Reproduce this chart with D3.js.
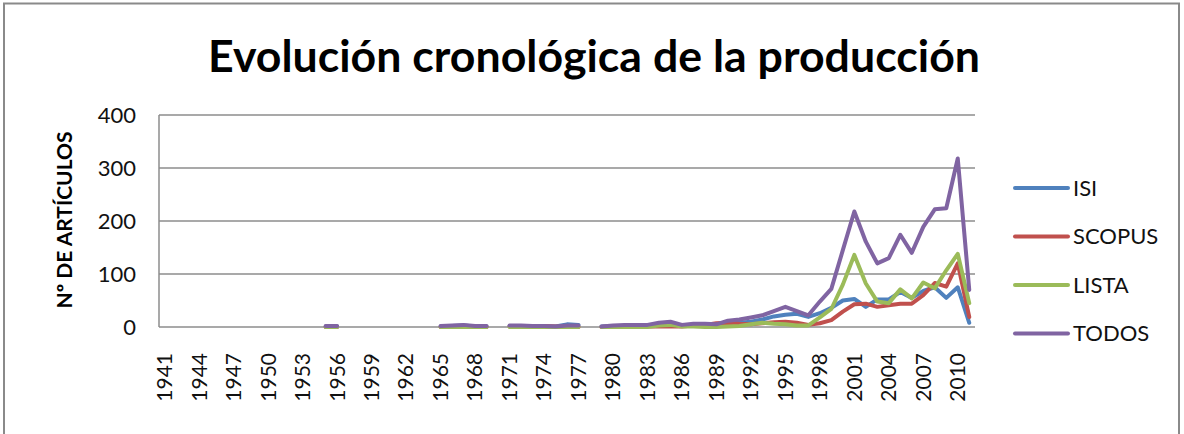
<!DOCTYPE html>
<html>
<head>
<meta charset="utf-8">
<script src="https://cdn.jsdelivr.net/npm/d3@7"></script>
<style>
  body { margin: 0; background: #fff; }
  svg { display: block; }
</style>
</head>
<body>
<svg width="1184" height="434"></svg>
<script>
// years on the category axis
const years = d3.range(1941, 2012);

// values per year, null = no data (gap in the line)
const N = null;
const isi = [
  N,N,N,N,N,N,N,N,N,N,N,N,N,N, 1,1, N,N,N,N,N,N,N,N, 1,2,3,1,1, N,
  2,2,1,1,1,5,4, N,
  1,2,2,2,2,4,5,2,3,3,2,7,8,10,14,20,23,25,19,26,36,50,53,38,52,52,66,55,68,75,55,75,8
];
const scopus = [
  N,N,N,N,N,N,N,N,N,N,N,N,N,N, 0,0, N,N,N,N,N,N,N,N, 0,1,1,0,0, N,
  1,2,2,2,1,0,0, N,
  0,1,2,2,1,1,1,1,3,4,7,8,6,5,7,9,10,8,4,7,13,29,43,44,38,41,44,44,60,83,76,120,19
];
const lista = [
  N,N,N,N,N,N,N,N,N,N,N,N,N,N, 0,0, N,N,N,N,N,N,N,N, 0,0,0,0,0, N,
  0,0,0,0,0,0,0, N,
  0,0,0,0,0,3,4,1,1,0,0,1,2,5,8,6,5,3,3,18,34,80,136,82,48,45,71,54,84,73,107,138,45
];
const todos = [
  N,N,N,N,N,N,N,N,N,N,N,N,N,N, 2,2, N,N,N,N,N,N,N,N, 2,3,4,2,2, N,
  3,3,2,2,1,3,3, N,
  1,3,4,4,4,8,10,4,6,6,5,12,14,18,22,30,38,30,22,48,72,145,218,161,120,130,174,140,189,222,224,318,70
];

const seriesNames = ['ISI', 'SCOPUS', 'LISTA', 'TODOS'];
const seriesValues = [isi, scopus, lista, todos];
const colors = ['#4f81bd', '#c0504d', '#9bbb59', '#8064a2'];
const yTicks = [0, 100, 200, 300, 400];

const svg = d3.select('svg');
const plotLeft = 159, plotRight = 975, plotTop = 115, plotBottom = 327;

// chart border
svg.append('rect')
  .attr('x', 4).attr('y', 3.5)
  .attr('width', 1175).attr('height', 440)
  .attr('fill', 'none')
  .attr('stroke', '#8a8a8a')
  .attr('stroke-width', 2);

// titulo
svg.append('text')
  .attr('x', (208 + 980) / 2)
  .attr('y', 72)
  .attr('text-anchor', 'middle')
  .attr('font-family', 'Lato, sans-serif')
  .attr('font-weight', 'bold')
  .attr('font-size', 44)
  .attr('textLength', 772)
  .attr('lengthAdjust', 'spacingAndGlyphs')
  .attr('fill', '#000')
  .text('Evolución cronológica de la producción');

const x = d3.scaleBand()
  .domain(years)
  .range([plotLeft, plotRight]);

const y = d3.scaleLinear()
  .domain([0, 400])
  .range([plotBottom, plotTop]);

// grid
svg.append('g')
  .selectAll('line')
  .data(yTicks)
  .join('line')
  .attr('x1', plotLeft).attr('x2', plotRight)
  .attr('y1', d => y(d)).attr('y2', d => y(d))
  .attr('stroke', '#8c8c8c')
  .attr('stroke-width', 1.5);

// y axis line
svg.append('line')
  .attr('x1', plotLeft).attr('x2', plotLeft)
  .attr('y1', plotTop).attr('y2', plotBottom)
  .attr('stroke', '#8c8c8c')
  .attr('stroke-width', 1.5);

// y tick labels
svg.append('g')
  .selectAll('text')
  .data(yTicks)
  .join('text')
  .attr('x', 136)
  .attr('y', d => y(d))
  .attr('dy', '0.35em')
  .attr('text-anchor', 'end')
  .attr('font-family', 'Lato, sans-serif')
  .attr('font-size', 22)
  .attr('fill', '#111')
  .text(d => d);

// y axis title
svg.append('text')
  .attr('transform', 'translate(72,220) rotate(-90)')
  .attr('text-anchor', 'middle')
  .attr('font-family', 'Lato, sans-serif')
  .attr('font-weight', 'bold')
  .attr('font-size', 21)
  .attr('fill', '#000')
  .text('Nº DE ARTÍCULOS');

// x tick labels, every 3 years
const xLabels = years.filter((d, i) => i % 3 === 0);
svg.append('g')
  .selectAll('text')
  .data(xLabels)
  .join('text')
  .attr('transform', d => `translate(${x(d) + x.bandwidth() / 2},353) rotate(-90)`)
  .attr('dy', '0.35em')
  .attr('text-anchor', 'end')
  .attr('font-family', 'Lato, sans-serif')
  .attr('font-size', 21)
  .attr('fill', '#111')
  .text(d => d);

// lines
const line = d3.line()
  .defined(d => d.v != null)
  .x(d => x(d.year) + x.bandwidth() / 2)
  .y(d => y(d.v));

seriesValues.forEach((vals, k) => {
  svg.append('path')
    .datum(years.map((yr, i) => ({year: yr, v: vals[i]})))
    .attr('d', line)
    .attr('fill', 'none')
    .attr('stroke', colors[k])
    .attr('stroke-width', 4)
    .attr('stroke-linejoin', 'round')
    .attr('stroke-linecap', 'round');
});

// legend
const legend = svg.append('g')
  .selectAll('g')
  .data(seriesNames)
  .join('g')
  .attr('transform', (d, i) => `translate(1015,${188 + i * 48.5})`);

legend.append('line')
  .attr('x1', 0).attr('x2', 53)
  .attr('stroke', (d, i) => colors[i])
  .attr('stroke-width', 4)
  .attr('stroke-linecap', 'round');

legend.append('text')
  .attr('x', 58)
  .attr('dy', '0.35em')
  .attr('font-family', 'Lato, sans-serif')
  .attr('font-size', 22)
  .attr('fill', '#111')
  .text(d => d);
</script>
</body>
</html>
